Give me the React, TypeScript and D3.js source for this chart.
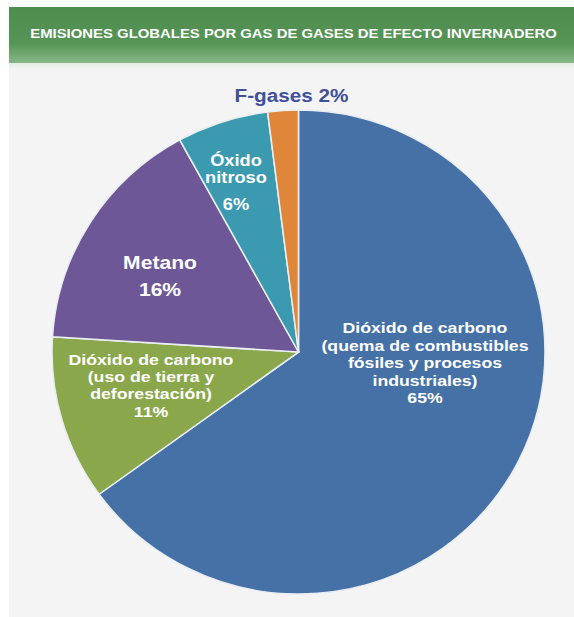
import React from "react";
import * as d3 from "d3";

const TITLE = "EMISIONES GLOBALES POR GAS DE GASES DE EFECTO INVERNADERO";
const categories = [
  "Dióxido de carbono (quema de combustibles fósiles y procesos industriales)",
  "Dióxido de carbono (uso de tierra y deforestación)",
  "Metano",
  "Óxido nitroso",
  "F-gases",
];
const shares = [65, 11, 16, 6, 2];
const labelLines = [
  ["Dióxido de carbono", "(quema de combustibles", "fósiles y procesos", "industriales)"],
  ["Dióxido de carbono", "(uso de tierra y", "deforestación)"],
  ["Metano"],
  ["Óxido", "nitroso"],
  ["F-gases"],
];
const sliceColors = ["#4571a7", "#8aa84b", "#6e5796", "#3b9ab0", "#e0863a"];

const W = 574;
const H = 617;
const CX = 298.5;
const CY = 352;
const R = 242;
const SX = 246.5 / 242;
const FONT = "'Liberation Sans', Arial, Helvetica, sans-serif";
const STRETCH = 1.14;

type LabelStyle = {
  x: number;
  y: number;
  size: number;
  lead: number;
  pctGap: number;
  color: string;
  inline?: boolean;
};

// layout for each label (positions only)
const labelLayout: LabelStyle[] = [
  { x: 425, y: 333, size: 15.5, lead: 17.5, pctGap: 17.5, color: "#fff" },
  { x: 151, y: 365, size: 15.5, lead: 17.2, pctGap: 17.2, color: "#fff" },
  { x: 160, y: 268.5, size: 18.5, lead: 20, pctGap: 27.2, color: "#fff" },
  { x: 236, y: 165.5, size: 16, lead: 17, pctGap: 27, color: "#fff" },
  { x: 291.5, y: 101.5, size: 18.5, lead: 20, pctGap: 0, color: "#3f4f98", inline: true },
];

function StretchText({ x, y, size, color, children, scale = STRETCH }: any) {
  return (
    <g transform={`translate(${x},${y}) scale(${scale},1)`}>
      <text
        x={0}
        y={0}
        textAnchor="middle"
        fontFamily={FONT}
        fontWeight="bold"
        fontSize={size}
        fill={color}
      >
        {children}
      </text>
    </g>
  );
}

export default function App() {
  const pie = d3
    .pie<number>()
    .sort(null)
    .value((d) => d)
    .startAngle(0)
    .endAngle(2 * Math.PI);
  const arcs = pie(shares);
  const arc = d3.arc<d3.PieArcDatum<number>>().innerRadius(0).outerRadius(R);

  return (
    <svg
      width={W}
      height={H}
      viewBox={`0 0 ${W} ${H}`}
      style={{ position: "absolute", left: 0, top: 0 }}
    >
      <defs>
        <linearGradient id="hdr" x1="0" y1="0" x2="0" y2="1">
          <stop offset="0%" stopColor="#4e8c4f" />
          <stop offset="65%" stopColor="#569556" />
          <stop offset="100%" stopColor="#86b886" />
        </linearGradient>
        <linearGradient id="shadow" x1="0" y1="0" x2="0" y2="1">
          <stop offset="0%" stopColor="#e4ebe4" />
          <stop offset="100%" stopColor="#f4f4f4" />
        </linearGradient>
      </defs>
      <rect x={0} y={0} width={W} height={H} fill="#ffffff" />
      <rect x={9} y={7} width={W - 9} height={H - 7} fill="#f4f4f4" />
      <rect x={9} y={7} width={W - 9} height={56} fill="url(#hdr)" />
      <rect x={9} y={63} width={W - 9} height={6} fill="url(#shadow)" />
      <StretchText x={293.5} y={37.5} size={13.3} color="#ffffff" scale={1.12}>
        {TITLE}
      </StretchText>

      <g transform={`translate(${CX},${CY}) scale(${SX},1)`}>
        {arcs.map((a, i) => (
          <path
            key={categories[i]}
            d={arc(a) || ""}
            fill={sliceColors[i]}
            stroke="#e9eef2"
            strokeWidth={1.5}
          />
        ))}
      </g>

      {labelLayout.map((l, i) => {
        const lines = labelLines[i];
        if (l.inline) {
          return (
            <StretchText key={i} x={l.x} y={l.y} size={l.size} color={l.color} scale={1.12}>
              {`${lines[0]} ${shares[i]}%`}
            </StretchText>
          );
        }
        return (
          <g key={i}>
            {lines.map((t, j) => (
              <StretchText key={j} x={l.x} y={l.y + j * l.lead} size={l.size} color={l.color}>
                {t}
              </StretchText>
            ))}
            <StretchText
              x={l.x}
              y={l.y + (lines.length - 1) * l.lead + l.pctGap}
              size={l.size}
              color={l.color}
            >
              {`${shares[i]}%`}
            </StretchText>
          </g>
        );
      })}
    </svg>
  );
}
